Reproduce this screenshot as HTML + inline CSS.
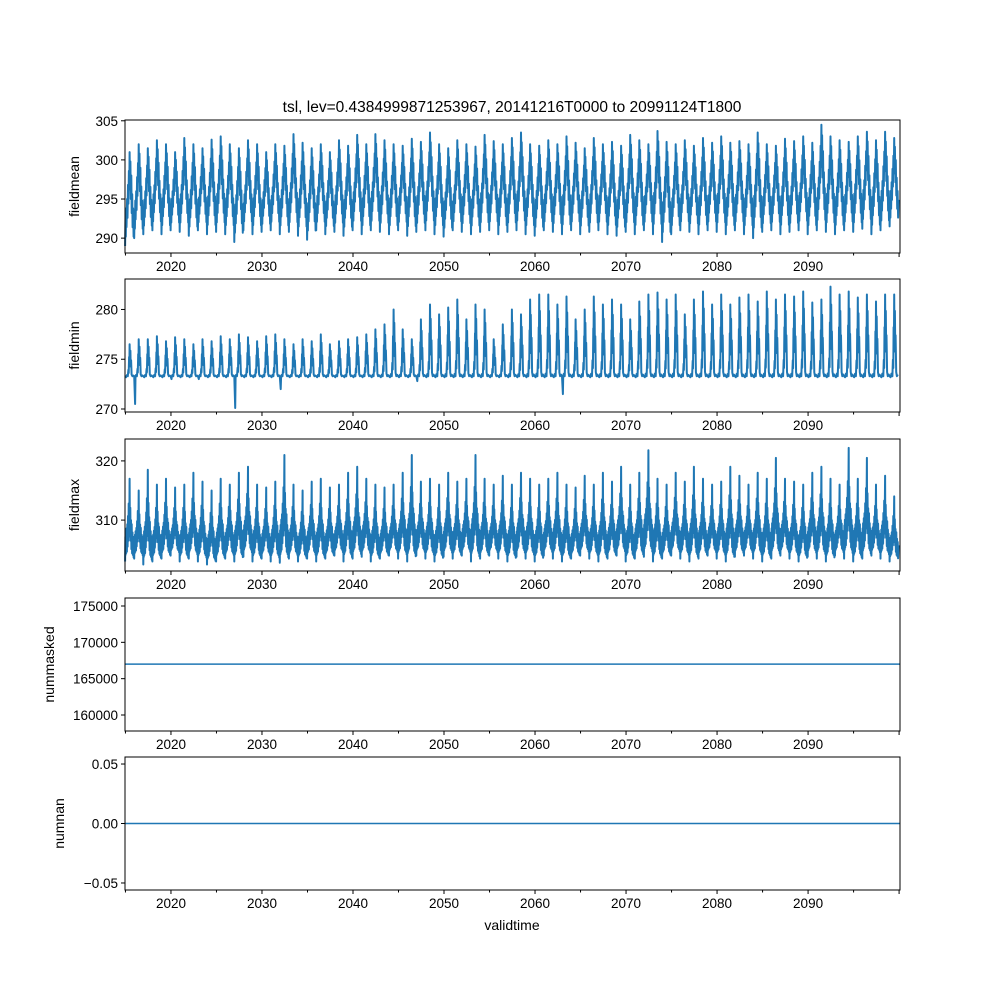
<!DOCTYPE html>
<html><head><meta charset="utf-8">
<style>
body{margin:0;background:#fff;}
svg text{font-family:"Liberation Sans","DejaVu Sans",sans-serif;fill:#000;}
</style></head>
<body>
<svg id="fig" width="1000" height="1000" xmlns="http://www.w3.org/2000/svg">
<rect width="1000" height="1000" fill="#fff"/>
<text x="512" y="112" font-size="15.5" text-anchor="middle">tsl, lev=0.4384999871253967, 20141216T0000 to 20991124T1800</text>
<text x="512" y="930" font-size="14" text-anchor="middle">validtime</text>
</svg>
<script>
const years = [];
for (let y = 2015; y <= 2099; y++) years.push(y);
const meanPeaks = [
301,302,301.5,302.5,302,301,302.8,302,301.5,302.6,
303,302,301.5,302.5,302,301,302,301.8,303.3,302.2,
301.5,302,301,302.5,301.8,303.2,302,303.3,302.5,302,
301.8,302.7,302.3,303.5,302,301.5,302.5,302,301.7,303.2,
302.4,302,302.8,303.5,302,301.8,302.5,302,303,302.2,
301.5,302.8,302,302.3,301.8,303.2,302.5,302,303.7,302.3,
302,302.5,301.8,302.8,302.2,303,302.2,302.4,302,303.5,
302,301.8,302.7,302.4,303,302.2,304.5,303,302.5,302.3,
303,303.6,302.5,303.6,302.8];
const meanTroughs = [
289,290,290.5,291,290.5,291,290.8,290.3,291,290.5,
290.8,290.5,289.5,291,290.5,290.8,291,290.5,290.8,290.3,
289.8,291,290.5,290.8,290.3,291,290.5,291,290.8,290.5,
291,290.3,290.8,291,290.5,290.2,291,290.8,290.5,290.8,
291,290.5,290.8,291,290.5,290.3,291,290.8,290.5,291,
290.5,290.8,291,290.5,290.3,290.8,290.5,291,290.5,289.5,
290.5,291,290.8,290.5,291,290.8,290.5,291,290.5,290,
290.8,291,290.5,290.8,291,290.5,291,290.8,290.5,291,
290.8,291.2,290.5,291,291.5];
const minPeaks = [
276.5,277,277,277.3,276.8,277.2,277,276.5,277,276.8,
277.3,277,277.5,277.2,276.8,277.3,277.5,277,276.5,277,
276.8,277.5,276.5,276.8,277,277.2,277.5,278,278.5,280,
278,277,279,280.5,279.5,280.2,281,279,280.5,280,
277,278.5,280,279.5,281,281.5,281.5,280.5,281.3,279,
280,281.3,280.5,281,280.5,279,280.8,281.5,281.7,281,
281.5,279.5,281,281.8,280.5,281.5,280.5,281.2,281.5,280.8,
281.8,281,281.5,281.3,281.8,280.7,281,282.3,281.5,281.8,
281.2,281.5,280.8,281.5,281.5];
const minTroughs = [
273.2,270.5,273.2,273.2,273.2,273,273.2,273.2,273,273.2,
273.2,273.2,270.1,273.2,273.2,273.2,273.2,272,273.2,273.2,
273.2,273.2,273.2,273.2,273.2,273.2,273.2,273.2,273.2,273.2,
273.2,273.2,272.8,273.2,273.2,273.2,273.2,273.2,273.2,273.2,
273.2,273.2,273.2,273.2,273.2,273.2,273.2,273.2,271.5,273.2,
273.2,273.2,273.2,273.2,273.2,273.2,273.2,273.2,273.2,273.2,
273.2,273.2,273.2,273.2,273.2,273.2,273.2,273.2,273.2,273.2,
273.2,273.2,273.2,273.2,273.2,273.2,273.2,273.2,273.2,273.2,
273.2,273.2,273.2,273.2,273.2];
const minBase = 273.3;
const maxPeaks = [
317,315,318.5,316,317,315.5,316,318,316.5,315,
317,316,318,319,316,315.5,316.5,321,316,315,
316.5,317,315.5,316,318,319,317,316,315.5,316,
318,321,316.5,317,316,318,316.5,317,321,317,
316,317.5,316,318,317,316,317,318,316,315.5,
317.5,316,318,316.5,319,316,318,321.8,317,316,
318,316.5,319,317,316,316.5,319,317.5,316,318,
317,320.5,317,316.5,316,318,319,317,316,322.2,
317,320.5,316,317.5,314];
const maxTroughs = [
303,303.5,302.5,303,303.5,304,303,303.5,303,302.5,
303,303.5,303,303.8,303,303.5,303,302.8,303.5,303,
303.5,303,303.5,304,303,303.5,303.8,303,303.5,304,
303.5,303,304,303.5,303,303.8,303.5,304,303,303.5,
304,303.5,303,303.8,303.5,303,304,303.5,303,303.5,
304,303.5,303,303.5,304,303,303.5,303.8,303,303.5,
304,303.5,303,303.5,304,303.5,303,303.8,304,303.5,
303,303.5,304,303.5,303,303.8,303.5,303,304,303.5,
303,303.5,304,303.5,303];
const nummaskedValue = 167000;
const numnanValue = 0;
const xTicks = [2020,2030,2040,2050,2060,2070,2080,2090];

const L = 125, R = 900, X0 = 2014.95, X1 = 2100.1;
const panels = [
  {name:'fieldmean', top:120, bot:253, y0:288.1, y1:305.1, ticks:[290,295,300,305], fmt:v=>v},
  {name:'fieldmin', top:279, bot:412, y0:269.7, y1:283.06, ticks:[270,275,280], fmt:v=>v},
  {name:'fieldmax', top:439, bot:571, y0:301.4, y1:323.7, ticks:[310,320], fmt:v=>v},
  {name:'nummasked', top:598, bot:731, y0:157800, y1:176100, ticks:[160000,165000,170000,175000], fmt:v=>v},
  {name:'numnan', top:757, bot:890, y0:-0.0559, y1:0.0559, ticks:[-0.05,0,0.05], fmt:v=>v.toFixed(2).replace('-','−')}
];
const svg = document.getElementById('fig');
const NS = 'http://www.w3.org/2000/svg';
const xs = t => L + (t - X0) / (X1 - X0) * (R - L);
function mk(tag, attrs){const e=document.createElementNS(NS,tag);for(const k in attrs)e.setAttribute(k,attrs[k]);svg.appendChild(e);return e;}

const shapeMean = [[0,0],[0.04,0.3],[0.08,0.1],[0.12,0.4],[0.16,0.2],[0.22,0.5],[0.26,0.3],[0.32,0.65],[0.36,0.45],[0.42,0.8],[0.46,0.6],[0.5,1],[0.54,0.7],[0.58,0.9],[0.63,0.5],[0.68,0.75],[0.73,0.35],[0.78,0.55],[0.83,0.2],[0.88,0.4],[0.93,0.1],[0.97,0.3]];
const shapeMin = [[0,0],[0.1,0,1],[0.14,0],[0.2,0.03],[0.3,0],[0.36,0.2],[0.4,0.1],[0.44,0.6],[0.47,0.35],[0.5,1],[0.54,0.45],[0.58,0.8],[0.62,0.3],[0.66,0.5],[0.72,0.05],[0.8,0],[0.9,0.02]];
const shapeMax = [[0,0],[0.03,0.3],[0.06,0.08],[0.09,0.35],[0.12,0.1],[0.16,0.4],[0.2,0.12],[0.24,0.45],[0.28,0.18],[0.32,0.55],[0.36,0.25],[0.4,0.7],[0.44,0.3],[0.47,0.6],[0.5,1],[0.53,0.35],[0.57,0.65],[0.61,0.25],[0.65,0.5],[0.69,0.15],[0.73,0.45],[0.77,0.1],[0.81,0.35],[0.85,0.08],[0.89,0.3],[0.93,0.05],[0.97,0.25]];

panels.forEach((p, i) => {
  const ys = v => p.bot - (v - p.y0) / (p.y1 - p.y0) * (p.bot - p.top);
  let d = '';
  if (i < 3) {
    const pk = [meanPeaks, minPeaks, maxPeaks][i], tr = [meanTroughs, minTroughs, maxTroughs][i];
    const sh = [shapeMean, shapeMin, shapeMax][i];
    years.forEach((y, k) => {
      sh.forEach(([f, w, dip]) => {
        const t = y - 0.04 + f;
        if (t < X0 || t > X1) return;
        let v;
        if (i === 1) v = dip ? tr[k] : minBase + w * (pk[k] - minBase);
        else v = tr[k] + w * (pk[k] - tr[k]);
        d += (d ? 'L' : 'M') + xs(t).toFixed(1) + ',' + ys(v).toFixed(1);
      });
    });
  } else {
    const v = i === 3 ? nummaskedValue : numnanValue;
    d = 'M' + L + ',' + ys(v) + 'L' + R + ',' + ys(v);
  }
  const line = mk('path', {d, fill:'none', stroke:'#1f77b4', 'stroke-width':i<3?2:1.6, 'stroke-linejoin':'round'});
  
  
  const frame = mk('rect', {x:L, y:p.top, width:R-L, height:p.bot-p.top, fill:'none', stroke:'#000', 'stroke-width':1});
  
  
  p.ticks.forEach(v => {
    const y = ys(v);
    mk('line', {x1:L-4, x2:L, y1:y, y2:y, stroke:'#000'});
    const t = mk('text', {x:L-7, y:y+5, 'font-size':13.5, 'text-anchor':'end'});
    t.textContent = p.fmt(v);
    
    
  });
  for (let y = 2015; y <= 2100; y += 5) {
    const major = y % 10 === 0;
    mk('line', {x1:xs(y), x2:xs(y), y1:p.bot, y2:p.bot + (major ? 4 : 2.5), stroke:'#000'});
  }
  xTicks.forEach(y => {
    const t = mk('text', {x:xs(y), y:p.bot+18, 'font-size':13.5, 'text-anchor':'middle'});
    t.textContent = y;
    
    
  });
  const lab = mk('text', {x:0, y:0, 'font-size':14, 'text-anchor':'middle', transform:`translate(${i===3?54:i===4?64:79},${(p.top+p.bot)/2}) rotate(-90)`});
  lab.textContent = p.name;
  
  
});
</script>
</body></html>
